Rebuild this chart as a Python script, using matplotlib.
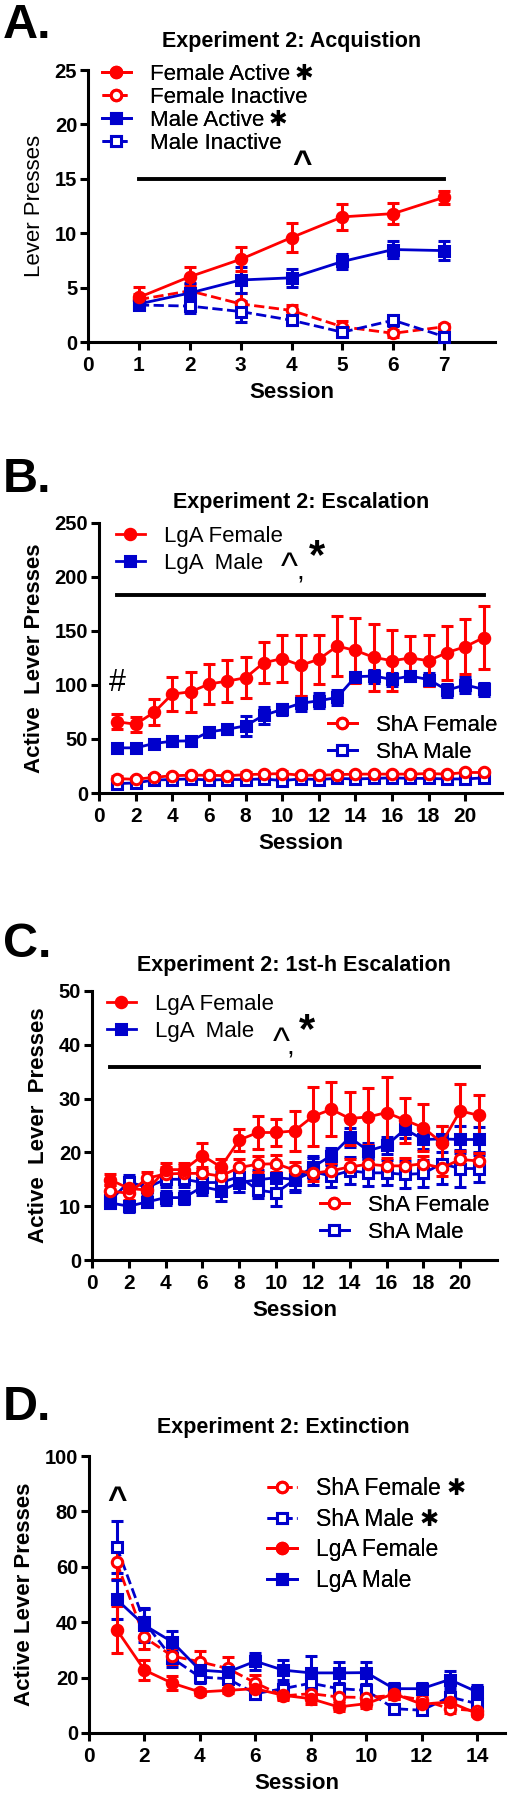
import numpy as np
import matplotlib.pyplot as plt
from matplotlib.lines import Line2D

plt.rcParams['font.family'] = 'Liberation Sans'

RED = '#ff0000'
BLUE = '#0000cc'

# ---- A: acquisition ----
sess_a = np.arange(1, 8)
fa_act = [4.1, 6.0, 7.6, 9.6, 11.5, 11.8, 13.3]
fa_act_err = [1.0, 0.9, 1.1, 1.3, 1.2, 1.0, 0.6]
fa_inact = [3.9, 4.7, 3.5, 2.9, 1.4, 0.8, 1.4]
fa_inact_err = [0.5, 0.6, 1.0, 0.5, 0.5, 0.3, 0.3]
ma_act = [3.5, 4.5, 5.7, 5.9, 7.4, 8.5, 8.4]
ma_act_err = [0.4, 0.9, 1.2, 0.8, 0.7, 0.8, 0.9]
ma_inact = [3.4, 3.3, 2.8, 2.0, 0.9, 2.0, 0.5]
ma_inact_err = [0.4, 0.6, 1.0, 0.4, 0.4, 0.5, 0.4]

# ---- B: escalation ----
sess_b = np.arange(1, 22)
lgf_b = [65.9, 63.7, 74.6, 91.6, 93.7, 100.9, 103.6, 106.7, 120.7, 124.4, 118.2,
         123.8, 136.0, 132.0, 125.6, 122.5, 125.0, 122.5, 130.0, 135.5, 143.9]
lgf_b_err = [7, 7, 12, 15.5, 18.6, 18.5, 19.5, 19, 19, 22, 28,
             22.6, 28, 30, 31, 28.5, 20.7, 23.8, 25, 25.7, 29.4]
lgm_b = [41.8, 41.8, 45.8, 48.0, 48.3, 56.6, 59.0, 62.2, 72.0, 77.4, 83.0,
         85.4, 88.5, 107.7, 108.3, 105.2, 108.3, 105.0, 95.3, 100.0, 96.0]
lgm_b_err = [3, 2, 2, 3, 3, 3, 4, 9, 8, 5, 7, 7, 7, 4, 6, 6, 5, 6, 6, 7, 6]
shf_b = [13.3, 12.7, 14.5, 16.0, 16.5, 16.5, 16.0, 17.0, 17.5, 18.0, 16.5,
         16.5, 17.0, 17.5, 17.5, 17.5, 17.5, 18.0, 17.5, 19.0, 19.0]
shf_b_err = [2] * 21
shm_b = [8.7, 9.3, 12.0, 12.5, 13.0, 12.0, 12.5, 12.5, 13.0, 11.5, 13.0,
         12.5, 13.5, 13.0, 13.5, 14.0, 13.5, 13.5, 13.0, 13.0, 14.0]
shm_b_err = [2] * 21

# ---- C: 1st-h escalation ----
sess_c = np.arange(1, 22)
lgf_c = [14.9, 13.3, 13.0, 16.8, 16.8, 19.4, 17.3, 22.3, 23.7, 23.7, 24.0,
         26.7, 28.0, 26.3, 26.6, 27.4, 26.0, 24.6, 21.8, 27.7, 26.9]
lgf_c_err = [1.0, 1.0, 1.5, 1.2, 1.2, 2.4, 1.5, 2.0, 3.0, 2.5, 3.7,
             5.5, 5.0, 5.0, 5.3, 6.6, 4.2, 4.4, 3.1, 5.0, 3.7]
lgm_c = [10.6, 10.0, 10.8, 11.6, 11.6, 13.6, 12.9, 14.4, 14.9, 15.3, 15.0,
         17.3, 19.4, 22.8, 20.3, 21.3, 24.3, 22.4, 22.5, 22.4, 22.4]
lgm_c_err = [1.0, 1.0, 1.0, 1.3, 1.2, 1.5, 2.0, 1.8, 1.8, 2.0, 2.0,
             2.0, 1.5, 1.8, 1.5, 1.6, 1.6, 1.8, 2.5, 2.5, 2.3]
shf_c = [12.8, 12.4, 15.2, 16.0, 16.1, 16.1, 15.6, 17.2, 17.8, 17.9, 16.7,
         16.1, 16.6, 17.3, 17.8, 17.5, 17.5, 17.9, 17.1, 18.7, 18.4]
shf_c_err = [1.2, 1.2, 1.2, 1.2, 1.5, 1.2, 1.5, 1.5, 1.5, 1.6, 1.5,
             1.5, 1.5, 1.5, 1.5, 1.5, 1.5, 1.5, 1.5, 1.5, 1.5]
shm_c = [11.1, 14.5, 13.5, 15.0, 15.0, 14.4, 14.4, 15.5, 13.0, 12.5, 14.9,
         16.4, 15.6, 16.6, 16.2, 16.2, 15.9, 16.1, 17.9, 17.0, 17.0]
shm_c_err = [1.2, 1.3, 1.5, 1.5, 1.5, 1.5, 2.0, 2.0, 1.5, 2.5, 2.3,
             2.5, 2.0, 2.5, 2.5, 2.3, 2.5, 2.5, 3.7, 3.5, 2.5]

# ---- D: extinction ----
sess_d = np.arange(1, 15)
shf_d = [61.6, 34.5, 27.8, 25.7, 23.3, 18.1, 13.4, 14.2, 13.0, 12.8, 13.6, 12.0, 8.8, 8.0]
shf_d_err = [6, 4, 3, 4, 4, 3, 1.5, 1.5, 1.5, 1.5, 1.5, 1.5, 1.5, 1.0]
shm_d = [67.2, 40.0, 27.0, 20.2, 19.6, 14.2, 16.0, 18.0, 16.0, 15.4, 8.8, 8.2, 13.0, 10.6]
shm_d_err = [9.5, 5, 3, 2, 2, 2, 2, 3, 2, 2, 1.5, 1.5, 2, 2]
lgf_d = [37.3, 22.7, 18.0, 14.8, 15.4, 16.0, 13.6, 12.4, 9.4, 10.6, 14.2, 10.4, 11.2, 7.0]
lgf_d_err = [8.5, 3.5, 2.5, 1.0, 1.0, 1.5, 1.5, 2, 1.5, 1.5, 2, 1.5, 1.5, 1.0]
lgm_d = [48.2, 38.9, 32.9, 22.7, 22.0, 25.9, 22.7, 21.7, 21.7, 21.8, 16.0, 16.0, 19.3, 14.8]
lgm_d_err = [7, 6, 4, 2, 2, 3, 3.5, 6, 4, 4, 2, 2, 3, 2.5]

W, H = 509, 1800
fig = plt.figure(figsize=(W / 100, H / 100), dpi=100)
starred = []  # legend texts that get a big asterisk after them


def fx(px):
    return px / W


def fy(py):
    return 1 - py / H


def make_axes(left, right, top, bottom):
    return fig.add_axes([fx(left), fy(bottom), fx(right - left), (bottom - top) / H])


def style(ax, xlim, ylim, xticks, yticks, ylabel, ylabel_weight='bold'):
    ax.set_xlim(*xlim)
    ax.set_ylim(*ylim)
    ax.set_xticks(xticks)
    ax.set_yticks(yticks)
    for s in ['top', 'right']:
        ax.spines[s].set_visible(False)
    for s in ['left', 'bottom']:
        ax.spines[s].set_linewidth(2.2)
    ax.tick_params(width=2.2, length=5.8)
    ax.tick_params(axis='x', labelsize=15, pad=4)
    ax.tick_params(axis='y', labelsize=14.5, pad=2)
    for lab in ax.get_xticklabels() + ax.get_yticklabels():
        lab.set_fontweight('bold')
    ax.set_xlabel('Session', fontsize=16, fontweight='bold', labelpad=5)
    ax.set_ylabel(ylabel, fontsize=16, fontweight=ylabel_weight, labelpad=7)


def series(ax, x, y, err, color, marker, filled, dashed, label):
    ax.errorbar(x, y, yerr=err, color=color, ecolor=color, marker=marker,
                markersize=7.5, mfc=color if filled else 'white', mec=color, mew=2.2,
                linestyle='--' if dashed else '-', linewidth=2, elinewidth=2.2,
                capsize=4.5, capthick=2.2, label=label, clip_on=False, zorder=3)


def handle(color, marker, filled, dashed):
    return Line2D([], [], color=color, marker=marker, markersize=7.5,
                  mfc=color if filled else 'white', mec=color, mew=2.2,
                  linestyle='--' if dashed else '-', linewidth=2)


def legend(ax, items, x, y, fs, spacing, stars=()):
    hs = [handle(*it[1:]) for it in items]
    labels = [it[0] for it in items]
    leg = ax.legend(hs, labels, loc='upper left', bbox_to_anchor=(fx(x), fy(y)),
                    bbox_transform=fig.transFigure, frameon=False,
                    prop={'family': 'Liberation Sans', 'size': fs},
                    borderpad=0, borderaxespad=0, handlelength=1.3,
                    handletextpad=0.85, labelspacing=spacing)
    ax.add_artist(leg)
    for i in stars:
        starred.append((leg.get_texts()[i], fs))


def panel_text(letter, y, title, tx, ty):
    fig.text(fx(3), fy(y), letter, fontsize=35, fontweight='bold', va='center')
    fig.text(fx(tx), fy(ty), title, fontsize=15.5, fontweight='bold',
             ha='center', va='center')


# A
axA = make_axes(88, 495, 70, 342)
style(axA, (0, 8), (0, 25), range(0, 8), range(0, 26, 5), 'Lever Presses', 'normal')
series(axA, sess_a, fa_inact, fa_inact_err, RED, 'o', False, True, 'Female Inactive')
series(axA, sess_a, ma_inact, ma_inact_err, BLUE, 's', False, True, 'Male Inactive')
series(axA, sess_a, ma_act, ma_act_err, BLUE, 's', True, False, 'Male Active')
series(axA, sess_a, fa_act, fa_act_err, RED, 'o', True, False, 'Female Active')
axA.plot([1, 7], [15, 15], color='black', linewidth=2.8)
axA.text(4.2, 16.3, '^', fontsize=24, fontweight='bold', ha='center', va='center')
legend(axA, [('Female Active', RED, 'o', True, False),
             ('Female Inactive', RED, 'o', False, True),
             ('Male Active', BLUE, 's', True, False),
             ('Male Inactive', BLUE, 's', False, True)], 102, 64, 16, 0.09, stars=(0, 2))
panel_text('A.', 25, 'Experiment 2: Acquistion', 292, 42)

# B
axB = make_axes(99, 502, 523, 793)
style(axB, (0, 22), (0, 250), range(0, 21, 2), range(0, 251, 50), 'Active  Lever Presses')
series(axB, sess_b, shm_b, shm_b_err, BLUE, 's', False, False, 'ShA Male')
series(axB, sess_b, shf_b, shf_b_err, RED, 'o', False, False, 'ShA Female')
series(axB, sess_b, lgm_b, lgm_b_err, BLUE, 's', True, False, 'LgA  Male')
series(axB, sess_b, lgf_b, lgf_b_err, RED, 'o', True, False, 'LgA Female')
axB.plot([1, 21], [183.5, 183.5], color='black', linewidth=2.8)
axB.text(1, 88, '#', fontsize=22, ha='center', va='bottom')
axB.text(10.4, 208, '^', fontsize=26, ha='center', va='center')
axB.text(11.0, 192, ',', fontsize=20, ha='center', va='bottom')
axB.text(11.9, 200, '*', fontsize=30, fontweight='bold', ha='center', va='bottom')
legend(axB, [('LgA Female', RED, 'o', True, False),
             ('LgA  Male', BLUE, 's', True, False)], 116, 526, 16, 0.27)
legend(axB, [('ShA Female', RED, 'o', False, False),
             ('ShA Male', BLUE, 's', False, False)], 328, 715, 16, 0.27)
panel_text('B.', 480, 'Experiment 2: Escalation', 301, 502)

# C
axC = make_axes(92, 497, 991, 1260)
style(axC, (0, 22), (0, 50), range(0, 21, 2), range(0, 51, 10), 'Active  Lever  Presses')
series(axC, sess_c, shm_c, shm_c_err, BLUE, 's', False, False, 'ShA Male')
series(axC, sess_c, lgm_c, lgm_c_err, BLUE, 's', True, False, 'LgA  Male')
series(axC, sess_c, shf_c, shf_c_err, RED, 'o', False, False, 'ShA Female')
series(axC, sess_c, lgf_c, lgf_c_err, RED, 'o', True, False, 'LgA Female')
axC.plot([1, 21], [35.9, 35.9], color='black', linewidth=2.8)
axC.text(10.3, 40.3, '^', fontsize=26, ha='center', va='center')
axC.text(10.8, 37.0, ',', fontsize=20, ha='center', va='bottom')
axC.text(11.7, 38.8, '*', fontsize=30, fontweight='bold', ha='center', va='bottom')
legend(axC, [('LgA Female', RED, 'o', True, False),
             ('LgA  Male', BLUE, 's', True, False)], 107, 994, 16, 0.27)
legend(axC, [('ShA Female', RED, 'o', False, False),
             ('ShA Male', BLUE, 's', False, False)], 320, 1195, 16, 0.27)
panel_text('C.', 944, 'Experiment 2: 1st-h Escalation', 294, 965)

# D
axD = make_axes(89, 505, 1456, 1733)
style(axD, (0, 15), (0, 100), range(0, 15, 2), range(0, 101, 20), 'Active Lever Presses')
series(axD, sess_d, shm_d, shm_d_err, BLUE, 's', False, True, 'ShA Male')
series(axD, sess_d, shf_d, shf_d_err, RED, 'o', False, True, 'ShA Female')
series(axD, sess_d, lgm_d, lgm_d_err, BLUE, 's', True, False, 'LgA Male')
series(axD, sess_d, lgf_d, lgf_d_err, RED, 'o', True, False, 'LgA Female')
axD.text(1, 84, '^', fontsize=24, fontweight='bold', ha='center', va='center')
legend(axD, [('ShA Female', RED, 'o', False, True),
             ('ShA Male', BLUE, 's', False, True),
             ('LgA Female', RED, 'o', True, False),
             ('LgA Male', BLUE, 's', True, False)], 267, 1477, 16.5, 0.33, stars=(0, 1))
panel_text('D.', 1408, 'Experiment 2: Extinction', 283, 1427)

# heavy asterisks sit just right of their legend labels
fig.canvas.draw()
for txt, fs in starred:
    bb = txt.get_window_extent()
    fig.text(fx(bb.x1 + 5), (bb.y0 + bb.y1) / 2 / H, '\u2731', family='DejaVu Sans',
             fontsize=fs, ha='left', va='center')

fig.savefig('out.png', dpi=100)
